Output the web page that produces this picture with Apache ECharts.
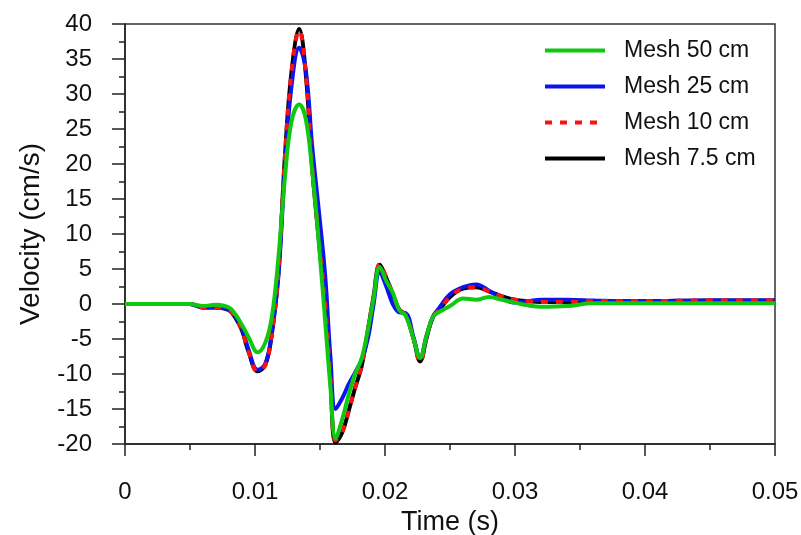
<!DOCTYPE html>
<html>
<head>
<meta charset="utf-8">
<script src="https://cdn.jsdelivr.net/npm/echarts@6/dist/echarts.min.js"></script>
<style>html,body{margin:0;padding:0;background:#fff}#c{width:801px;height:535px}</style>
</head>
<body>
<div id="c"></div>
<script>
// time samples (s)
var times = [0, 0.004, 0.005, 0.006, 0.007, 0.008, 0.0085, 0.009, 0.0095, 0.0102,
  0.0108, 0.0113, 0.0118, 0.0123, 0.0128, 0.0134, 0.0139, 0.0144, 0.0149, 0.0154,
  0.0158, 0.0162, 0.0167, 0.0172, 0.0177, 0.0182, 0.0187, 0.0191, 0.0196, 0.0201,
  0.0206, 0.0211, 0.0216, 0.0222, 0.0227, 0.0232, 0.0237, 0.0242, 0.025, 0.026,
  0.027, 0.028, 0.029, 0.030, 0.031, 0.032, 0.034, 0.036, 0.038, 0.040, 0.045, 0.050];
// velocity (cm/s)
var mesh50 = [0, 0, 0, -0.3, -0.1, -0.5, -1.5, -3.0, -4.7, -6.9,
  -5.5, -1.8, 6.6, 18, 26, 28.5, 26.5, 19, 9, -2.5,
  -11.8, -19.2, -16.5, -13, -10, -7.8, -3.5, 0.5, 5.3, 3.3,
  1.6, -0.9, -1.7, -5.0, -7.7, -4.5, -1.8, -1.1, -0.3, 0.8,
  0.6, 1.0, 0.6, 0.2, -0.2, -0.4, -0.3, 0.1, 0.1, 0.1, 0.1, 0.1];
var mesh25 = [0, 0, 0, -0.5, -0.5, -0.8, -1.8, -3.5, -6.5, -9.4,
  -8.5, -4, 4, 19.5, 31, 36.6, 33.5, 22.5, 13.5, 4,
  -7.5, -15, -13.5, -11.5, -9.8, -8, -4.8, -0.3, 4.6, 2.5,
  0.0, -1.2, -1.3, -4.8, -7.7, -4.5, -1.8, -0.5, 1.4, 2.4,
  2.8, 1.9, 0.8, 0.2, 0.4, 0.6, 0.6, 0.5, 0.4, 0.4, 0.5, 0.5];
var mesh10 = [0, 0, 0, -0.5, -0.5, -0.9, -2.0, -3.8, -6.8, -9.6,
  -8.7, -4.2, 4.5, 21, 33, 39.1, 33, 19.5, 9.5, 0,
  -10.5, -19.5, -18.3, -15.3, -12, -8.8, -3.5, 0.8, 5.7, 3.8,
  1.5, -0.8, -1.6, -5.0, -8.3, -4.8, -1.8, -0.8, 1.0, 2.2,
  2.4, 1.8, 1.1, 0.6, 0.4, 0.3, 0.3, 0.4, 0.4, 0.4, 0.5, 0.5];
var mesh75 = [0, 0, 0, -0.5, -0.5, -0.9, -2.0, -3.8, -6.8, -9.6,
  -8.7, -4.2, 4.5, 21, 33, 39.3, 33, 19.5, 9.3, -0.2,
  -10.8, -19.8, -18.4, -15.3, -12, -8.9, -3.6, 0.8, 5.6, 3.7,
  1.4, -0.8, -1.6, -5.0, -8.2, -4.8, -1.8, -0.8, 1.0, 2.2,
  2.4, 1.8, 1.1, 0.6, 0.4, 0.3, 0.3, 0.4, 0.4, 0.4, 0.5, 0.5];
var xTicks = ['0', '0.01', '0.02', '0.03', '0.04', '0.05'];
var seriesNames = ['Mesh 50 cm', 'Mesh 25 cm', 'Mesh 10 cm', 'Mesh 7.5 cm'];

function pairs(v) { return times.map(function (t, i) { return [t, v[i]]; }); }

var FONT = "'Liberation Sans', Arial, sans-serif";
var axisCol = '#222';
var chart = echarts.init(document.getElementById('c'), null, { renderer: 'canvas' });
chart.setOption({
  animation: false,
  backgroundColor: '#fff',
  grid: { left: 125, right: 26, top: 24, bottom: 91, outerBoundsMode: 'none', containLabel: false,
    show: true, borderColor: '#333', borderWidth: 1.5, backgroundColor: 'transparent' },
  legend: {
    data: seriesNames,
    orient: 'vertical',
    left: 543, top: 39, padding: 0,
    itemWidth: 60, itemHeight: 14, itemGap: 13,
    itemStyle: { opacity: 0 },
    lineStyle: { width: 4 },
    textStyle: { fontFamily: FONT, fontSize: 23, color: '#111', padding: [0, 0, 0, 14] }
  },
  xAxis: {
    type: 'value', min: 0, max: 0.05, interval: 0.01,
    name: 'Time (s)', nameLocation: 'middle', nameGap: 60,
    nameTextStyle: { fontFamily: FONT, fontSize: 27, color: '#111' },
    axisLine: { show: true, onZero: false, lineStyle: { color: axisCol, width: 1.5 } },
    axisTick: { show: true, inside: false, length: 12, lineStyle: { color: axisCol, width: 1.5 } },
    minorTick: { show: true, splitNumber: 2, length: 6, lineStyle: { color: axisCol, width: 1.5 } },
    splitLine: { show: false },
    axisLabel: { fontFamily: FONT, fontSize: 24, color: '#111', margin: 36,
      formatter: function (v) { return xTicks[Math.round(v / 0.01)]; } }
  },
  yAxis: {
    type: 'value', min: -20, max: 40, interval: 5,
    name: 'Velocity (cm/s)', nameLocation: 'middle', nameGap: 80,
    nameTextStyle: { fontFamily: FONT, fontSize: 28, color: '#111' },
    axisLine: { show: true, onZero: false, lineStyle: { color: axisCol, width: 1.5 } },
    axisTick: { show: true, inside: false, length: 13, lineStyle: { color: axisCol, width: 1.5 } },
    minorTick: { show: true, splitNumber: 2, length: 6, lineStyle: { color: axisCol, width: 1.5 } },
    splitLine: { show: false },
    axisLabel: { fontFamily: FONT, fontSize: 24, color: '#111', margin: 33 }
  },
  series: [
    { name: 'Mesh 7.5 cm', type: 'line', data: pairs(mesh75), smooth: 0.4, showSymbol: false, symbol: 'none',
      lineStyle: { color: '#000', width: 4 }, itemStyle: { color: '#000' } },
    { name: 'Mesh 25 cm', type: 'line', data: pairs(mesh25), smooth: 0.4, showSymbol: false, symbol: 'none',
      lineStyle: { color: '#0a14f0', width: 4 }, itemStyle: { color: '#0a14f0' } },
    { name: 'Mesh 10 cm', type: 'line', data: pairs(mesh10), smooth: 0.4, showSymbol: false, symbol: 'none',
      lineStyle: { color: '#ff1010', width: 4, type: [7, 8] }, itemStyle: { color: '#ff1010' } },
    { name: 'Mesh 50 cm', type: 'line', data: pairs(mesh50), smooth: 0.4, showSymbol: false, symbol: 'none',
      lineStyle: { color: '#10c810', width: 4 }, itemStyle: { color: '#10c810' } }
  ]
});
</script>
</body>
</html>
